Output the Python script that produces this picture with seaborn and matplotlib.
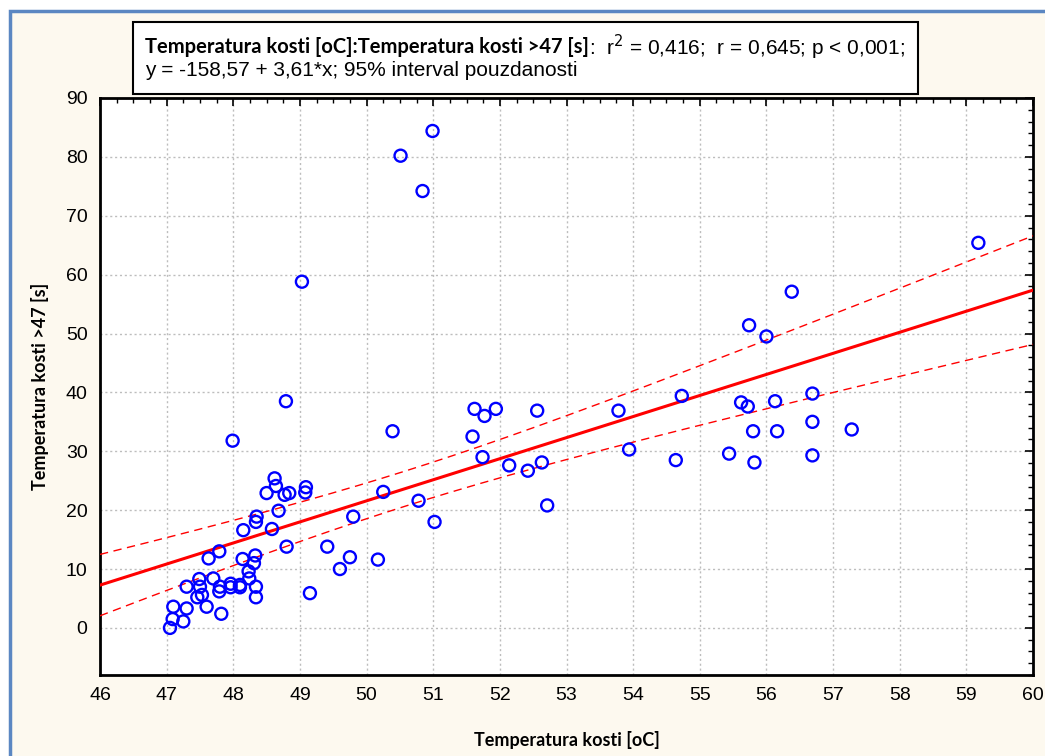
import numpy as np
import pandas as pd
import matplotlib
matplotlib.use('Agg')
import matplotlib.pyplot as plt
from matplotlib.patches import Rectangle
from matplotlib.ticker import MultipleLocator
import seaborn as sns

# Temperatura kosti [oC] vs. Temperatura kosti >47 [s]
temp_c = [47.05, 47.09, 47.10, 47.25, 47.30, 47.30, 47.46, 47.49, 47.50, 47.53,
          47.60, 47.70, 47.79, 47.80, 47.82, 47.63, 47.79, 47.96, 47.96, 48.10,
          48.10, 48.14, 48.23, 48.24, 48.31, 48.33, 48.34, 48.34, 48.15, 48.35,
          48.34, 47.99, 48.79, 48.62, 48.64, 48.50, 48.77, 48.84, 49.09, 49.08,
          48.68, 48.58, 48.80, 49.41, 49.75, 49.60, 49.15, 49.03, 49.80, 50.17,
          50.25, 50.39, 50.51, 50.84, 50.99, 50.78, 51.02, 51.59, 51.62, 51.77,
          51.94, 51.74, 52.14, 52.42, 52.63, 52.56, 52.71, 53.78, 53.94, 54.64,
          54.73, 55.44, 55.62, 55.72, 55.74, 55.80, 55.82, 56.00, 56.13, 56.16,
          56.38, 56.69, 56.69, 56.69, 57.28, 59.18]
time_s = [0.0, 1.5, 3.6, 1.1, 3.3, 7.0, 5.2, 8.3, 7.0, 5.6,
          3.6, 8.4, 6.2, 7.0, 2.4, 11.8, 13.0, 7.5, 6.9, 7.3,
          6.9, 11.7, 9.6, 8.4, 11.0, 12.3, 7.0, 5.2, 16.6, 18.9,
          18.0, 31.8, 38.5, 25.4, 24.1, 22.9, 22.6, 22.9, 23.9, 23.0,
          19.9, 16.8, 13.8, 13.8, 12.0, 10.0, 5.9, 58.8, 18.9, 11.6,
          23.1, 33.4, 80.2, 74.2, 84.4, 21.6, 18.0, 32.5, 37.2, 36.0,
          37.2, 29.0, 27.6, 26.7, 28.1, 36.9, 20.8, 36.9, 30.3, 28.5,
          39.4, 29.6, 38.3, 37.6, 51.4, 33.4, 28.1, 49.5, 38.5, 33.4,
          57.1, 39.8, 35.0, 29.3, 33.7, 65.4]

df = pd.DataFrame({'x': temp_c, 'y': time_s})

# linear fit + 95% confidence band for the mean
b1, b0 = np.polyfit(df.x, df.y, 1)
n = len(df)
resid = df.y - (b0 + b1 * df.x)
s = np.sqrt((resid ** 2).sum() / (n - 2))
sxx = ((df.x - df.x.mean()) ** 2).sum()
t975 = 1.99
xs = np.linspace(46, 60, 200)
fit = b0 + b1 * xs
half = t975 * s * np.sqrt(1 / n + (xs - df.x.mean()) ** 2 / sxx)
band = pd.DataFrame({'x': xs, 'fit': fit, 'lo': fit - half, 'hi': fit + half})

sns.set_style('white')
plt.rcParams['font.family'] = ['Liberation Sans', 'DejaVu Sans']
plt.rcParams['text.color'] = 'black'
plt.rcParams['axes.labelcolor'] = 'black'
plt.rcParams['xtick.color'] = 'black'
plt.rcParams['ytick.color'] = 'black'

fig = plt.figure(figsize=(10.45, 7.56), dpi=100)
fig.patch.set_facecolor('white')
fig.patches.append(Rectangle((10 / 1045, -0.01), 1.02, (756 - 11) / 756 + 0.01,
                             transform=fig.transFigure, facecolor='#FDF9EF',
                             edgecolor='#5B87C2', linewidth=2.5, zorder=-1))

ax = fig.add_axes([100 / 1045, 81 / 756, 933 / 1045, 577 / 756])
ax.set_zorder(2)
ax.set_facecolor('white')

sns.lineplot(data=band, x='x', y='fit', ax=ax, color='#FF0000', lw=2.2, zorder=3)
sns.lineplot(data=band, x='x', y='lo', ax=ax, color='#FF0000', lw=1,
             dashes=False, zorder=3, linestyle=(0, (6, 4)))
sns.lineplot(data=band, x='x', y='hi', ax=ax, color='#FF0000', lw=1,
             dashes=False, zorder=3, linestyle=(0, (6, 4)))
sns.scatterplot(data=df, x='x', y='y', ax=ax, marker='o', s=75,
                facecolors='none', edgecolor='#0000FF', linewidth=1.7, zorder=4)

ax.set_xlim(46, 60)
ax.set_ylim(-8, 90)
ax.xaxis.set_major_locator(MultipleLocator(1))
ax.xaxis.set_minor_locator(MultipleLocator(0.25))
ax.set_yticks(range(0, 91, 10))
ax.yaxis.set_minor_locator(MultipleLocator(2))
ax.grid(True, which='major', color='#BDBDBD', linestyle=(0, (1.5, 2)), lw=1)
ax.tick_params(which='both', direction='in', top=True, right=True,
               color='black', labelcolor='black', labelsize=14)
ax.tick_params(which='major', length=6, width=1.2, pad=9)
ax.tick_params(which='minor', length=3.5, width=1)
for sp in ax.spines.values():
    sp.set_color('black')
    sp.set_linewidth(2)

bold = ['Lato', 'DejaVu Sans']
ax.set_xlabel('Temperatura kosti [oC]', family=bold, fontweight='bold',
              fontsize=13, labelpad=19, color='black')
ax.set_ylabel('Temperatura kosti >47 [s]', family=bold, fontweight='bold',
              fontsize=13, labelpad=12, color='black')

# legend box with the regression summary
fig.patches.append(Rectangle((133 / 1045, 1 - 94 / 756), 785 / 1045, 72 / 756,
                             transform=fig.transFigure, facecolor='white',
                             edgecolor='black', linewidth=1.5, zorder=5))
t1 = fig.text(145 / 1045, 1 - 47 / 756, 'Temperatura kosti [oC]:Temperatura kosti >47 [s]',
              family=bold, fontweight='bold', fontsize=14.5, va='center', zorder=6)
fig.canvas.draw()
fig.text(0, 0, r':  r$^2$ = 0,416;  r = 0,645; p < 0,001;',
         fontsize=15, va='center', zorder=6,
         transform=matplotlib.transforms.offset_copy(
             fig.transFigure, fig=fig, x=t1.get_window_extent().x1, y=(1 - 47 / 756) * 756,
             units='dots'))
fig.text(145 / 1045, 1 - 71 / 756, 'y = -158,57 + 3,61*x; 95% interval pouzdanosti',
         fontsize=15, va='center', zorder=6)

fig.savefig('out.png', dpi=100)
